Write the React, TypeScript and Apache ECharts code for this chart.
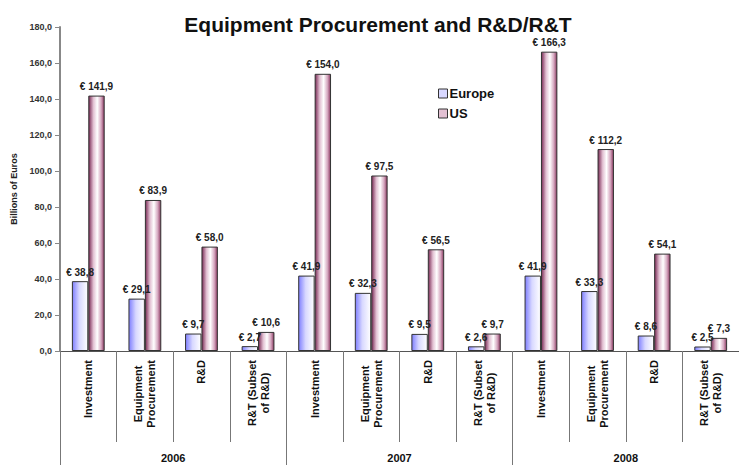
import React, { useEffect, useRef } from "react";
import * as echarts from "echarts";

const categories = [
  "Investment", "Equipment\nProcurement", "R&D", "R&T (Subset\nof R&D)",
  "Investment", "Equipment\nProcurement", "R&D", "R&T (Subset\nof R&D)",
  "Investment", "Equipment\nProcurement", "R&D", "R&T (Subset\nof R&D)",
];
const years = ["2006", "2007", "2008"];
const europe = [38.8, 29.1, 9.7, 2.7, 41.9, 32.3, 9.5, 2.6, 41.9, 33.3, 8.6, 2.5];
const us = [141.9, 83.9, 58.0, 10.6, 154.0, 97.5, 56.5, 9.7, 166.3, 112.2, 54.1, 7.3];

const fmt = (v: number) => v.toFixed(1).replace(".", ",");
const font = "Arial, 'Liberation Sans', sans-serif";

export default function App() {
  const ref = useRef<HTMLDivElement>(null);
  useEffect(() => {
    if (!ref.current) return;
    const chart = echarts.init(ref.current, undefined, { renderer: "svg" });
    const euroFill = new echarts.graphic.LinearGradient(0, 0, 1, 0, [
      { offset: 0, color: "#7f7fff" },
      { offset: 0.45, color: "#d8d8ff" },
      { offset: 1, color: "#ffffff" },
    ]);
    const usFill = new echarts.graphic.LinearGradient(0, 0, 1, 0, [
      { offset: 0, color: "#7a2a55" },
      { offset: 0.3, color: "#e2c0d2" },
      { offset: 0.55, color: "#ffffff" },
      { offset: 0.8, color: "#d6a8c0" },
      { offset: 1, color: "#8b3a62" },
    ]);
    const labelCfg = {
      show: true,
      position: "top" as const,
      distance: 4,
      formatter: (p: any) => "€ " + fmt(p.value),
      fontSize: 10,
      fontWeight: "bold" as const,
      color: "#222",
      fontFamily: font,
    };
    chart.setOption({
      animation: false,
      textStyle: { fontFamily: font },
      title: {
        text: "Equipment Procurement and R&D/R&T",
        left: 373,
        textAlign: "center",
        top: 9,
        textStyle: { fontSize: 21, fontWeight: "bold", color: "#111", fontFamily: font },
      },
      legend: {
        orient: "vertical",
        left: 433,
        top: 82,
        icon: "rect",
        itemWidth: 9,
        itemHeight: 9,
        itemGap: 7,
        textStyle: { fontSize: 13, fontWeight: "bold", color: "#111", fontFamily: font, padding: [0, 0, 0, -3] },
        data: [
          { name: "Europe", itemStyle: { color: "#d8d8ff", borderColor: "#333", borderWidth: 1 } },
          { name: "US", itemStyle: { color: "#e2c0d2", borderColor: "#333", borderWidth: 1 } },
        ],
      },
      grid: { left: 60, right: -7.4, top: 27, bottom: 114 },
      xAxis: [
        {
          type: "category",
          data: categories,
          position: "bottom",
          axisLine: { show: true, lineStyle: { color: "#555", width: 1 } },
          axisTick: { show: true, interval: 0, length: 91, lineStyle: { color: "#777", width: 1 } },
          axisLabel: {
            interval: 0,
            rotate: 90,
            margin: 9,
            align: "right",
            formatter: (v: string) => v.split("\n").map((l) => `{c|${l}}`).join("\n"),
            rich: {
              c: {
                align: "center",
                fontSize: 11,
                fontWeight: "bold",
                color: "#111",
                lineHeight: 13,
                fontFamily: font,
              },
            },
          },
        },
        {
          type: "category",
          data: years,
          position: "bottom",
          axisLine: { show: false },
          axisTick: { show: true, interval: 0, length: 115, lineStyle: { color: "#777", width: 1 } },
          axisLabel: {
            interval: 0,
            margin: 101,
            fontSize: 11,
            fontWeight: "bold",
            color: "#111",
            fontFamily: font,
          },
        },
      ],
      yAxis: {
        type: "value",
        min: 0,
        max: 180,
        interval: 20,
        name: "Billions of Euros",
        nameLocation: "middle",
        nameGap: 40,
        nameRotate: 90,
        nameTextStyle: { fontSize: 9, fontWeight: "bold", color: "#222", fontFamily: font },
        axisLine: { show: true, lineStyle: { color: "#888", width: 2 } },
        axisTick: { show: true, length: 5, lineStyle: { color: "#888" } },
        splitLine: { show: false },
        axisLabel: {
          formatter: (v: number) => fmt(v),
          fontSize: 9,
          fontWeight: "bold",
          color: "#333",
          margin: 8,
          fontFamily: font,
        },
      },
      series: [
        {
          name: "Europe",
          type: "bar",
          data: europe,
          barGap: "0%",
          barCategoryGap: "42%",
          itemStyle: { color: euroFill, borderColor: "#333", borderWidth: 1 },
          label: labelCfg,
        },
        {
          name: "US",
          type: "bar",
          data: us,
          itemStyle: { color: usFill, borderColor: "#333", borderWidth: 1 },
          label: labelCfg,
        },
      ],
    });
    return () => chart.dispose();
  }, []);
  return (
    <div
      ref={ref}
      style={{ position: "absolute", left: 0, top: 0, width: 739, height: 465, background: "#fff" }}
    />
  );
}
